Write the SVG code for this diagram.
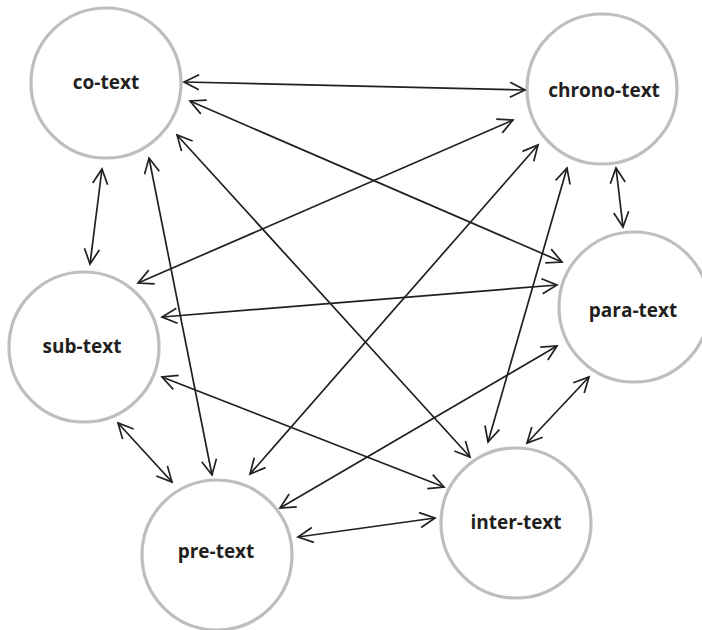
<svg xmlns="http://www.w3.org/2000/svg" width="702" height="630" viewBox="0 0 702 630">
<style>
.node circle{fill:#fff;stroke:#bcbec0;stroke-width:3.2}
.node text{font-family:"Open Sans","Liberation Sans",sans-serif;font-weight:700;font-size:19px;fill:#231f20;text-anchor:middle}
.conn line{stroke:#231f20;stroke-width:1.7;fill:none;marker-start:url(#ah);marker-end:url(#ah)}
</style>
<defs>
<marker id="ah" markerUnits="userSpaceOnUse" viewBox="-20 -12 24 24" refX="0" refY="0" markerWidth="24" markerHeight="24" orient="auto-start-reverse" overflow="visible">
<path d="M-15,-7.5 L0,0 L-15,7.5" fill="none" stroke="#231f20" stroke-width="1.7"/>
</marker>
</defs>
<g id="co-text" class="node"><circle cx="106" cy="83" r="75"/><text x="106" y="89">co-text</text></g>
<g id="chrono-text" class="node"><circle cx="602" cy="89" r="75"/><text x="604" y="97">chrono-text</text></g>
<g id="para-text" class="node"><circle cx="634" cy="307" r="75"/><text x="633" y="317">para-text</text></g>
<g id="sub-text" class="node"><circle cx="84" cy="347" r="75"/><text x="82" y="353">sub-text</text></g>
<g id="pre-text" class="node"><circle cx="217" cy="555" r="75"/><text x="216" y="558">pre-text</text></g>
<g id="inter-text" class="node"><circle cx="516" cy="523" r="75"/><text x="516" y="529">inter-text</text></g>
<g id="connectors" class="conn">
<line x1="184" y1="82" x2="525" y2="90"/>
<line x1="190" y1="101" x2="562" y2="262"/>
<line x1="177" y1="135" x2="470" y2="457"/>
<line x1="149" y1="158" x2="212" y2="475"/>
<line x1="102" y1="169" x2="90" y2="264"/>
<line x1="513" y1="120" x2="138" y2="283"/>
<line x1="538" y1="145" x2="250" y2="474"/>
<line x1="567" y1="168" x2="488" y2="442"/>
<line x1="616" y1="168" x2="623" y2="227"/>
<line x1="162" y1="317" x2="557" y2="285"/>
<line x1="162" y1="377" x2="444" y2="487"/>
<line x1="118" y1="423" x2="172" y2="482"/>
<line x1="280" y1="508" x2="557" y2="346"/>
<line x1="298" y1="537" x2="435" y2="518"/>
<line x1="589" y1="377" x2="527" y2="443"/>
</g>
</svg>
